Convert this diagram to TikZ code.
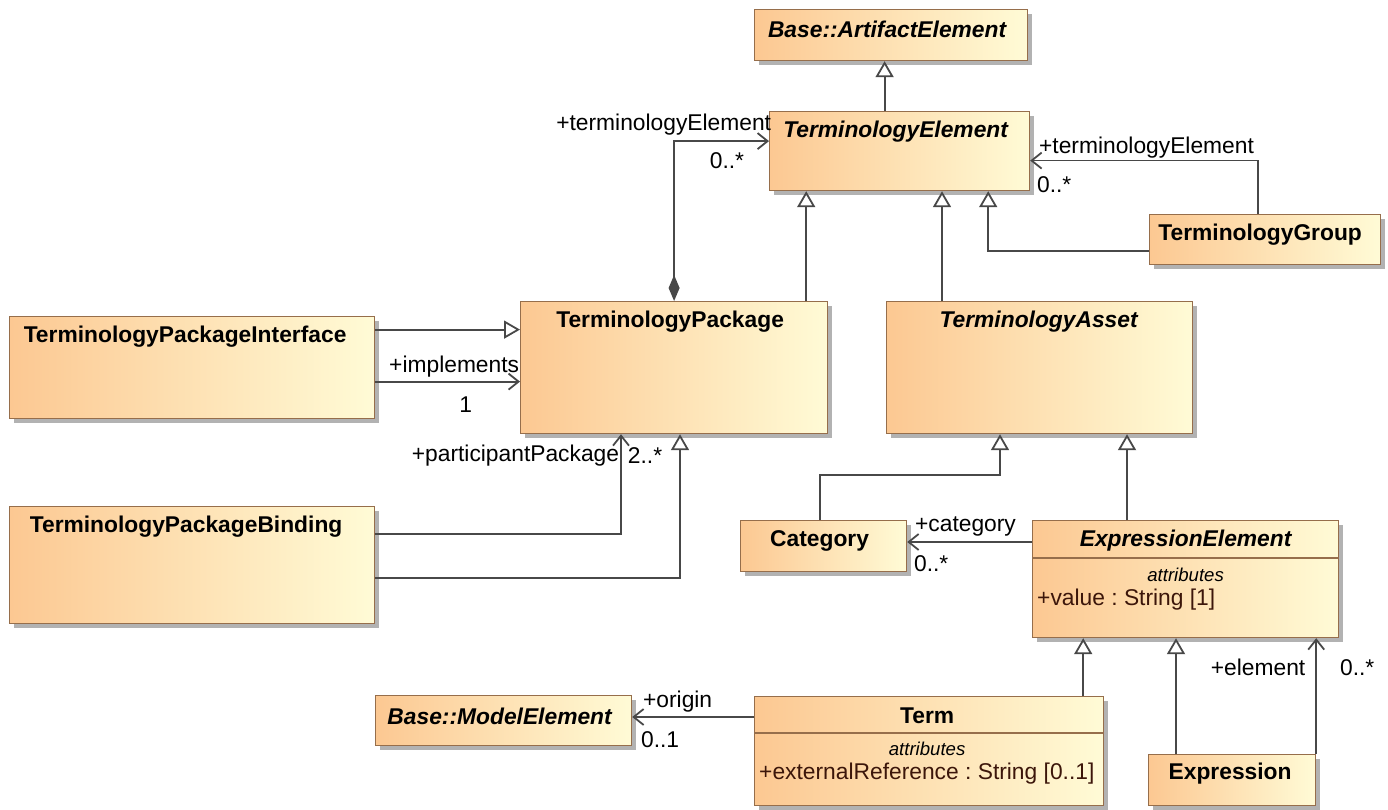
\documentclass[tikz,border=0pt]{standalone}
\usepackage{fontspec}
\setmainfont{Liberation Sans}
\usetikzlibrary{arrows.meta,shadows}
\definecolor{umlorange}{RGB}{252,200,146}
\definecolor{umlyellow}{RGB}{255,251,214}
\definecolor{umlborder}{RGB}{150,110,75}
\definecolor{umlline}{RGB}{72,72,72}
\definecolor{umltext}{RGB}{60,22,10}
\newcommand{\umlfont}{\fontsize{22.8}{26}\selectfont}
\newcommand{\attrfont}{\fontsize{18.6}{22}\selectfont}
\frenchspacing

\begin{document}
\begin{tikzpicture}[x=1pt,y=-1pt]
	\tikzstyle{cls}=[draw=umlborder, line width=1.2pt, left color=umlorange, right color=umlyellow, drop shadow={shadow xshift=4pt,shadow yshift=-4pt,fill=black!30,opacity=1}, inner sep=0pt, anchor=north west]
	\tikzstyle{cname}=[font=\umlfont\bfseries, inner sep=0pt]
	\tikzstyle{aname}=[font=\umlfont\bfseries\itshape, inner sep=0pt]
	\tikzstyle{attr}=[font=\umlfont, text=umltext, inner sep=0pt, anchor=west]
	\tikzstyle{attrhead}=[font=\attrfont\itshape, inner sep=0pt]
	\tikzstyle{comp line}=[draw=umlborder, line width=1.2pt]
	\tikzstyle{gen}=[draw=umlline, line width=1.8pt, -{Triangle[fill=white,length=16pt,width=18pt]}]
	\tikzstyle{assoc}=[draw=umlline, line width=1.8pt, -{Straight Barb[length=10pt,width=16pt]}]
	\tikzstyle{comp}=[draw=umlline, line width=1.8pt, {Diamond[fill=umlline,length=26pt,width=11pt]}-{Straight Barb[length=10pt,width=16pt]}]
	\tikzstyle{lbl}=[font=\umlfont, inner sep=1pt]
	\useasboundingbox (0,0) rectangle (1388,810);
		% classes
		\node[cls, minimum width=273pt, minimum height=51pt] (artifact) at (754,9) {};
		\node[aname] (artifact_n) at ([xshift=-4pt,yshift=-20pt]artifact.north) {Base::ArtifactElement};
		\node[cls, minimum width=260pt, minimum height=79pt] (telem) at (769,111) {};
		\node[aname] (telem_n) at ([xshift=-4pt,yshift=-21pt]telem.north) {TerminologyElement};
		\node[cls, minimum width=231pt, minimum height=50pt] (tgroup) at (1149,214) {};
		\node[cname] (tgroup_n) at ([xshift=-5pt,yshift=-21pt]tgroup.north) {TerminologyGroup};
		\node[cls, minimum width=307pt, minimum height=132pt] (tpack) at (520,301) {};
		\node[cname] (tpack_n) at ([xshift=-4pt,yshift=-21pt]tpack.north) {TerminologyPackage};
		\node[cls, minimum width=306pt, minimum height=132pt] (tasset) at (886,301) {};
		\node[aname] (tasset_n) at ([xshift=-1pt,yshift=-21pt]tasset.north) {TerminologyAsset};
		\node[cls, minimum width=365pt, minimum height=102pt] (tpif) at (9,316) {};
		\node[cname] (tpif_n) at ([xshift=-7pt,yshift=-20.5pt]tpif.north) {TerminologyPackageInterface};
		\node[cls, minimum width=365pt, minimum height=117pt] (tpbind) at (9,506) {};
		\node[cname] (tpbind_n) at ([xshift=-6pt,yshift=-20.5pt]tpbind.north) {TerminologyPackageBinding};
		\node[cls, minimum width=166pt, minimum height=51pt] (cat) at (740,520) {};
		\node[cname] (cat_n) at ([xshift=-4pt,yshift=-21pt]cat.north) {Category};
		\node[cls, minimum width=306pt, minimum height=117pt] (exel) at (1032,520) {};
		\node[aname] (exel_n) at ([yshift=-21pt]exel.north) {ExpressionElement};
			\draw[comp line] ([yshift=-38pt]exel.north west) -- ([yshift=-38pt]exel.north east);
			\node[attrhead] (exel_h) at ([yshift=-55pt]exel.north) {attributes};
			\node[attr] (exel_a) at ([xshift=5pt,yshift=-80pt]exel.north west) {+value : String [1]};
		\node[cls, minimum width=256pt, minimum height=50pt] (model) at (375,695) {};
		\node[aname] (model_n) at ([xshift=-4pt,yshift=-21pt]model.north) {Base::ModelElement};
		\node[cls, minimum width=349pt, minimum height=109pt] (term) at (754,696) {};
		\node[cname] (term_n) at ([xshift=-2pt,yshift=-20pt]term.north) {Term};
			\draw[comp line] ([yshift=-37pt]term.north west) -- ([yshift=-37pt]term.north east);
			\node[attrhead] (term_h) at ([xshift=-2pt,yshift=-53pt]term.north) {attributes};
			\node[attr] (term_a) at ([xshift=5pt,yshift=-78pt]term.north west) {+externalReference : String [0..1]};
		\node[cls, minimum width=167pt, minimum height=51pt] (expr) at (1148,754) {};
		\node[cname] (expr_n) at ([xshift=-2pt,yshift=-20pt]expr.north) {Expression};
		% generalizations
			\draw[gen] ([xshift=-15pt]telem.north) -- ([xshift=-15pt]telem.north |- artifact.south);
			\draw[gen] ([xshift=-22pt]tpack.north east) -- ([xshift=-22pt]tpack.north east |- telem.south);
			\draw[gen] ([xshift=56pt]tasset.north west) -- ([xshift=56pt]tasset.north west |- telem.south);
			\draw[gen] ([yshift=-11pt]tgroup.west) -| ([xshift=-42pt]telem.south east);
			\draw[gen] ([yshift=38pt]tpif.east) -- ([yshift=38pt]tpif.east -| tpack.west);
			\draw[gen] ([yshift=-12.5pt]tpbind.east) -| ([xshift=160pt]tpack.south west);
			\draw[gen] ([xshift=-4pt]cat.north) -- ++(0,-45) -| ([xshift=114pt]tasset.south west);
			\draw[gen] ([xshift=95pt]exel.north west) -- ([xshift=95pt]exel.north west |- tasset.south);
			\draw[gen] ([xshift=-21pt]term.north east) -- ([xshift=-21pt]term.north east |- exel.south);
			\draw[gen] ([xshift=28pt]expr.north west) -- ([xshift=28pt]expr.north west |- exel.south);
		% associations
			\draw[comp] (tpack.north) |- ([yshift=10pt]telem.west)
				node[lbl, at end, anchor=east, xshift=4pt, yshift=16.5pt] (te_role) {+terminologyElement}
				node[lbl, at end, anchor=east, xshift=-23pt, yshift=-19.5pt] (te_mult) {0..*};
			\draw[assoc] ([xshift=-7.5pt]tgroup.north) |- ([yshift=-9.5pt]telem.east)
				node[lbl, at end, anchor=west, xshift=7pt, yshift=13pt] (tg_role) {+terminologyElement}
				node[lbl, at end, anchor=west, xshift=5pt, yshift=-24pt] (tg_mult) {0..*};
			\draw[assoc] ([yshift=-14pt]tpif.east) -- ([yshift=-14pt]tpif.east -| tpack.west)
				node[lbl, at end, anchor=east, xshift=1pt, yshift=15pt] (impl_role) {+implements}
				node[lbl, at end, anchor=east, xshift=-46pt, yshift=-23pt] (impl_mult) {1};
			\draw[assoc] ([yshift=31.5pt]tpbind.east) -| ([xshift=101pt]tpack.south west)
				node[lbl, at end, anchor=east, xshift=0pt, yshift=-21pt] (pp_role) {+participantPackage}
				node[lbl, at end, anchor=west, xshift=5pt, yshift=-21pt] (pp_mult) {2..*};
			\draw[assoc] ([yshift=-22pt]exel.north west) -- ([yshift=-22pt]exel.north west -| cat.east)
				node[lbl, at end, anchor=west, xshift=6pt, yshift=16pt] (cat_role) {+category}
				node[lbl, at end, anchor=west, xshift=5pt, yshift=-22pt] (cat_mult) {0..*};
			\draw[assoc] (expr.north east) -- (expr.north east |- exel.south)
				node[lbl, at end, anchor=east, xshift=-9pt, yshift=-29pt] (el_role) {+element}
				node[lbl, at end, anchor=west, xshift=22pt, yshift=-29pt] (el_mult) {0..*};
			\draw[assoc] ([yshift=-21pt]term.north west) -- ([yshift=-21pt]term.north west -| model.east)
				node[lbl, at end, anchor=west, xshift=9pt, yshift=15pt] (or_role) {+origin}
				node[lbl, at end, anchor=west, xshift=7pt, yshift=-23pt] (or_mult) {0..1};
\end{tikzpicture}
\end{document}
